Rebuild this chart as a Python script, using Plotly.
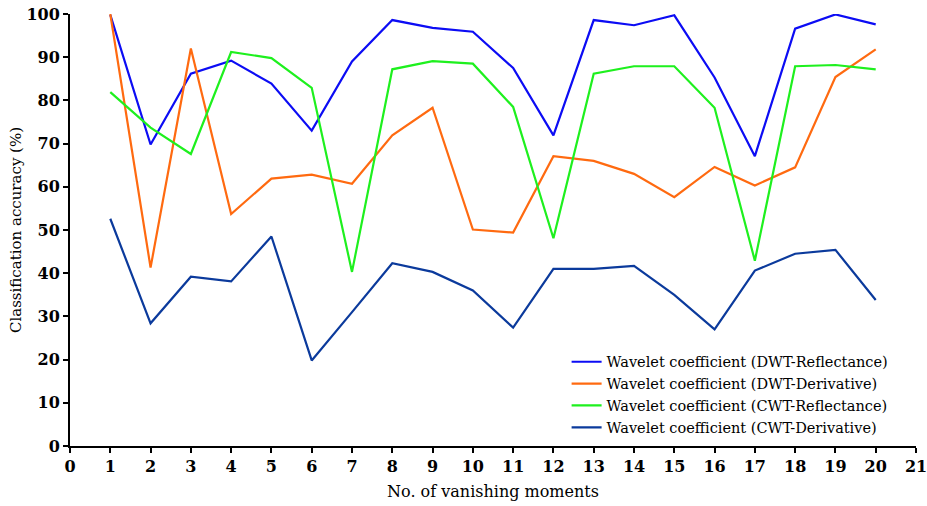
import plotly.graph_objects as go

moments = list(range(1, 21))
dwt_reflectance = [99.8, 69.8, 86.2, 89.2, 83.9, 73.0, 89.0, 98.6, 96.8, 95.9,
                   87.5, 71.9, 98.6, 97.4, 99.7, 85.3, 67.1, 96.6, 99.9, 97.6]
dwt_derivative = [100.0, 41.3, 92.0, 53.7, 61.9, 62.8, 60.7, 71.9, 78.3, 50.1,
                  49.4, 67.1, 66.0, 63.0, 57.6, 64.6, 60.3, 64.5, 85.4, 91.8]
cwt_reflectance = [81.9, 73.7, 67.6, 91.2, 89.8, 82.9, 40.3, 87.2, 89.1, 88.5,
                   78.5, 48.1, 86.2, 87.9, 87.9, 78.3, 42.9, 87.9, 88.2, 87.2]
cwt_derivative = [52.6, 28.4, 39.2, 38.1, 48.5, 19.8, 31.0, 42.3, 40.3, 36.0,
                  27.4, 41.0, 41.0, 41.7, 35.0, 27.0, 40.6, 44.5, 45.4, 33.8]

series_names = ["Wavelet coefficient (DWT-Reflectance)",
                "Wavelet coefficient (DWT-Derivative)",
                "Wavelet coefficient (CWT-Reflectance)",
                "Wavelet coefficient (CWT-Derivative)"]
series_values = [dwt_reflectance, dwt_derivative, cwt_reflectance, cwt_derivative]
colors = ["#0c0cf4", "#ff6a10", "#1ef01e", "#0b3a9c"]

x_ticks = list(range(0, 22))
y_ticks = list(range(0, 101, 10))

fig = go.Figure()
for name, vals, c in zip(series_names, series_values, colors):
    fig.add_trace(go.Scatter(x=moments, y=vals, mode="lines", name=name,
                             line=dict(color=c, width=2.2), cliponaxis=False))

font_family = "DejaVu Serif"
fig.update_layout(
    width=927, height=506,
    margin=dict(l=70, r=11, t=14, b=60),
    paper_bgcolor="white", plot_bgcolor="white",
    font=dict(family=font_family, color="black", size=15),
    showlegend=True,
    legend=dict(x=0.587, y=0.005, xanchor="left", yanchor="bottom",
                bgcolor="rgba(0,0,0,0)",
                font=dict(size=14.5, family=font_family),
                tracegroupgap=0, itemwidth=30),
    xaxis=dict(range=[0, 21], tickvals=x_ticks, ticktext=[str(v) for v in x_ticks],
               automargin=False, ticklabeloverflow="allow",
               showgrid=False, zeroline=False, showline=True, linecolor="black",
               linewidth=2, ticks="outside", ticklen=5, tickwidth=2, tickcolor="black",
               tickfont=dict(family=font_family, size=16, weight="bold"),
               title=dict(text="No. of vanishing moments", standoff=11,
                          font=dict(family=font_family, size=16))),
    yaxis=dict(range=[0, 100], tickvals=y_ticks, ticktext=[str(v) for v in y_ticks],
               automargin=False, ticklabeloverflow="allow",
               showgrid=False, zeroline=False, showline=True, linecolor="black",
               linewidth=2, ticks="outside", ticklen=5, tickwidth=2, tickcolor="black",
               tickfont=dict(family=font_family, size=16, weight="bold"),
               title=dict(text="Classification accuracy (%)", standoff=1,
                          font=dict(family=font_family, size=15))),
)

fig.write_html("out.html")
